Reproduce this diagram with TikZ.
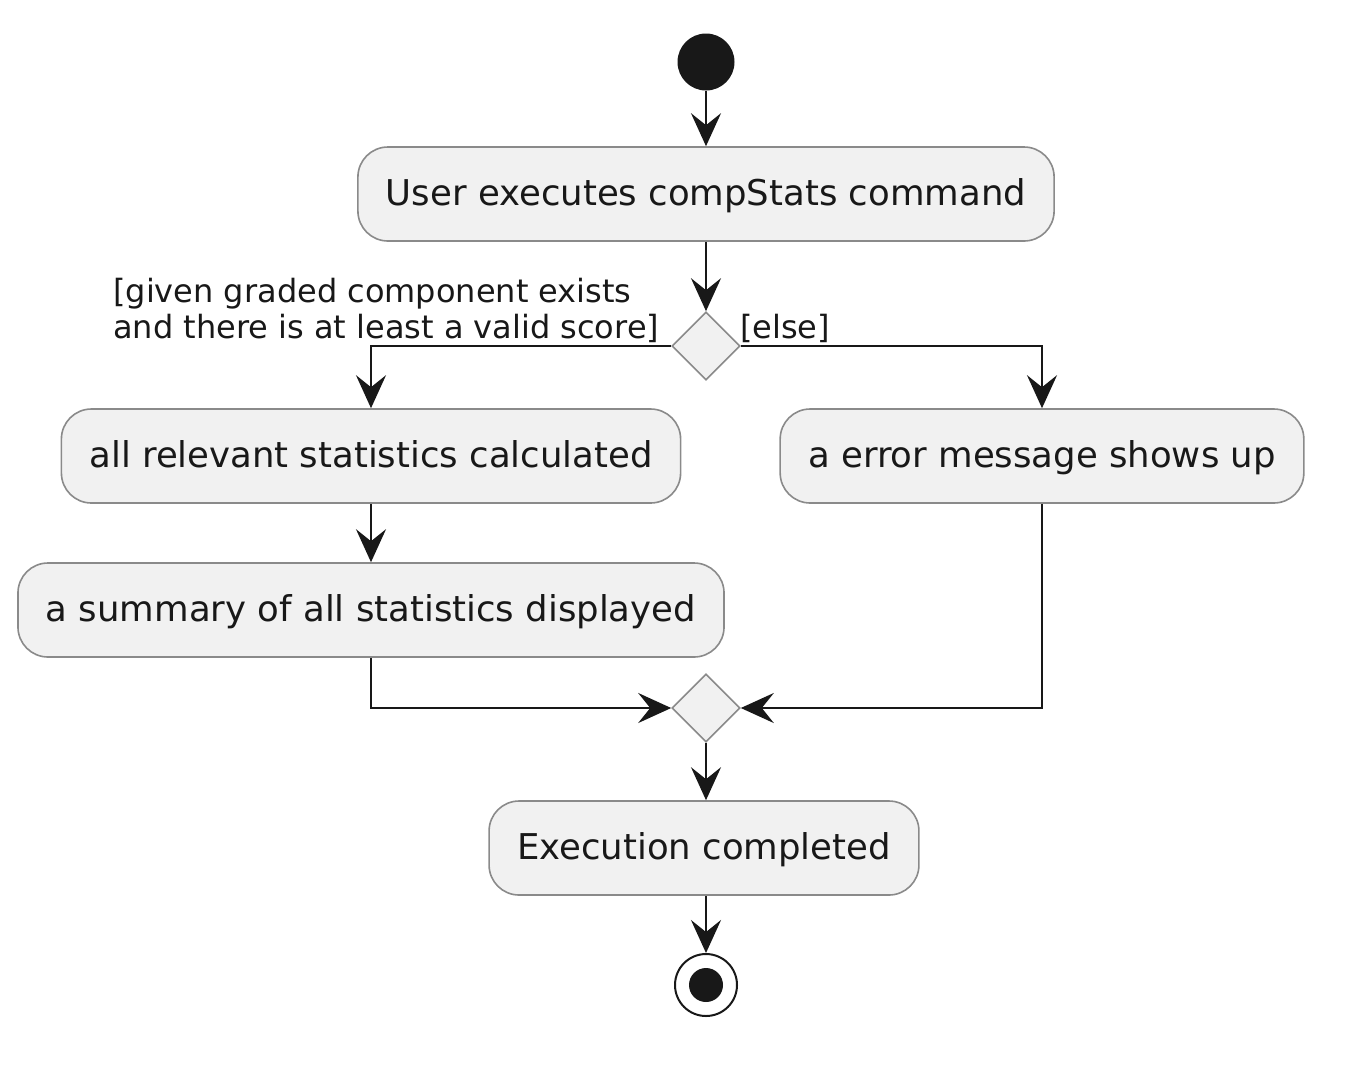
\documentclass[tikz,border=0pt]{standalone}
\usepackage{fontspec}
\setmainfont{DejaVu Sans}
\usetikzlibrary{arrows.meta,shapes.geometric}
\definecolor{boxfill}{HTML}{F1F1F1}
\definecolor{boxline}{HTML}{8A8A8A}
\definecolor{ink}{HTML}{181818}
\begin{document}
\begin{tikzpicture}[x=1pt,y=-1pt,
  act/.style={draw=boxline,fill=boxfill,line width=1.6pt,rounded corners=30pt,
    minimum height=94pt,inner xsep=28pt,text height=28pt,text depth=6pt,
    font=\fontsize{35.5}{42}\selectfont,text=ink},
  choice/.style={diamond,draw=boxline,fill=boxfill,line width=1.6pt,
    minimum width=68pt,minimum height=68pt,inner sep=0pt,aspect=1},
  flow/.style={draw=ink,line width=2.4pt,-{Stealth[length=33pt,width=30pt,inset=12pt]}},
  lbl/.style={font=\fontsize{32}{37}\selectfont,text=ink,inner sep=0pt}]
\useasboundingbox (0,0) rectangle (1372,1072);
\node[circle,fill=ink,minimum size=57pt,inner sep=0pt] (start) at (706,62) {};
\node[act] (b1) at (706,194) {User executes compStats command};
\node[choice] (d1) at (706,346) {};
\node[act] (b2) at (371,456) {all relevant statistics calculated};
\node[act] (b3) at (1042,456) {a error message shows up};
\node[act] (b4) at (371,610) {a summary of all statistics displayed};
\node[choice] (d2) at (706,708) {};
\node[act] (b5) at (704,848) {Execution completed};
\node[circle,draw=ink,fill=white,line width=2pt,minimum size=62pt,inner sep=0pt] (stop) at (706,985) {};
\node[circle,fill=ink,minimum size=34pt,inner sep=0pt] (stopin) at (706,985) {};

\draw[flow] (start) -- (b1);
\draw[flow] (b1) -- (d1);
\draw[flow] (d1.west) -| (b2.north);
\draw[flow] (d1.east) -| (b3.north);
\draw[flow] (b2) -- (b4);
\draw[flow] (b4.south) |- (d2.west);
\draw[flow] (b3.south) |- (d2.east);
\draw[flow] (d2) -- (b5.north -| d2);
\draw[flow] (b5.south -| stop) -- (stop);

\node[lbl,anchor=base west] (g1) at (113,302) {[given graded component exists};
\node[lbl,anchor=base west] (g1b) at (113,338) {and there is at least a valid score]};
\node[lbl,anchor=base west] (g2) at (740,338) {[else]};
\end{tikzpicture}
\end{document}
